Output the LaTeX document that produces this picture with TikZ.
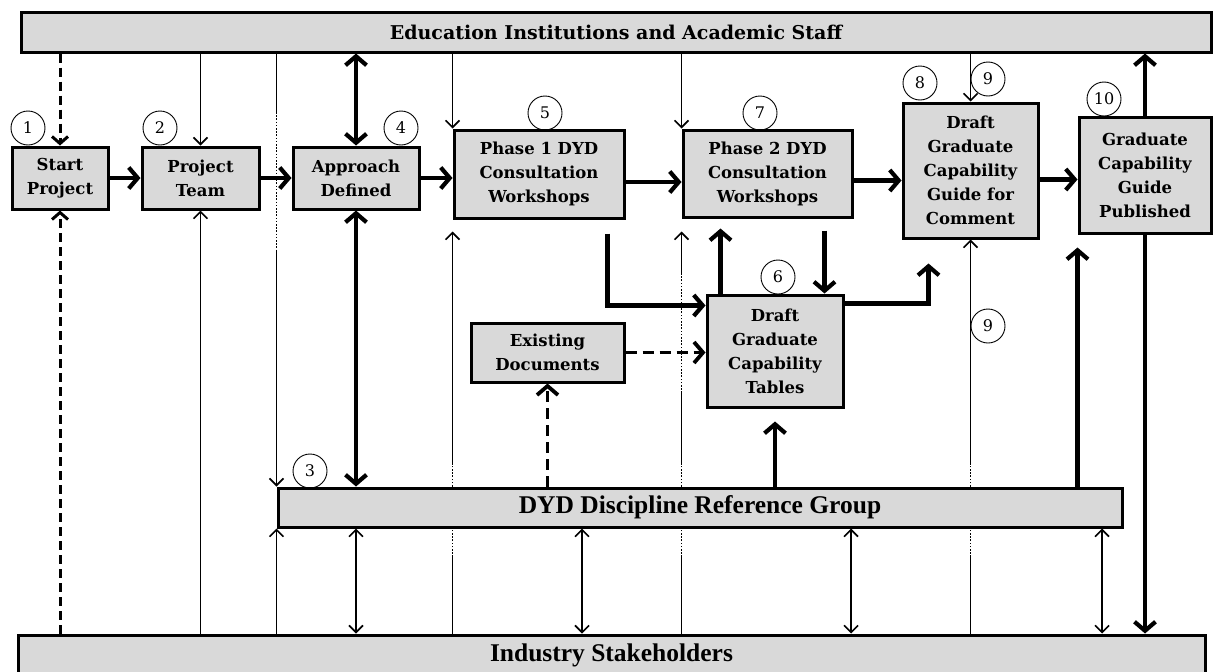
\documentclass[tikz,border=0pt]{standalone}
\usepackage{fontspec}
\setmainfont{DejaVu Serif}
\newfontfamily\barfont{Liberation Serif}
\usetikzlibrary{arrows.meta}
\definecolor{boxgray}{RGB}{217,217,217}
\newcommand{\boxfont}{\fontsize{16.5}{24}\selectfont\bfseries}
\newcommand{\topfont}{\fontsize{19}{22}\selectfont\bfseries}
\newcommand{\lowfont}{\barfont\fontsize{25.5}{28}\selectfont\bfseries}

\begin{document}
\begin{tikzpicture}[x=1pt,y=-1pt,
	proc/.style={draw,line width=3pt,fill=boxgray,align=center,font=\boxfont,inner sep=0pt},
	bar/.style={draw,line width=3pt,fill=boxgray,inner sep=0pt},
	num/.style={draw,circle,line width=0.9pt,minimum size=34pt,inner sep=0pt,font=\fontsize{16}{16}\selectfont},
	thinline/.style={line width=1.6pt},
	dotline/.style={line width=1.6pt,dash pattern=on 1.6pt off 1.6pt},
	thinarr/.style={line width=1.6pt,-{Straight Barb[length=7pt,width=14pt]}},
	thinboth/.style={line width=1.6pt,{Straight Barb[length=7pt,width=14pt]}-{Straight Barb[length=7pt,width=14pt]}},
	fatarr/.style={line width=4.2pt,-{Straight Barb[length=9pt,width=21pt]}},
	fatboth/.style={line width=4.2pt,{Straight Barb[length=9pt,width=21pt]}-{Straight Barb[length=9pt,width=21pt]}},
	dasharr/.style={line width=3pt,dash pattern=on 9pt off 5pt,-{Straight Barb[length=7pt,width=16pt]}},
	dashfat/.style={line width=3.8pt,dash pattern=on 11pt off 6pt,-{Straight Barb[length=9pt,width=21pt]}}
	]
	\useasboundingbox (0,0) rectangle (1213,672);
	% bars
	\node[bar,minimum width=1190pt,minimum height=40pt,font=\topfont] (edu) at (616,32) {Education Institutions and Academic Staff};
	\node[bar,minimum width=844pt,minimum height=39pt,font=\lowfont] (drg) at (700,507.5) {DYD Discipline Reference Group};
	\node[bar,minimum width=1187pt,minimum height=41pt,font=\lowfont] (industry) at (611.5,655.5) {Industry Stakeholders};
	% process boxes
	\node[proc,minimum width=96pt,minimum height=62pt] (start) at (60,178) {Start\\Project};
	\node[proc,minimum width=117pt,minimum height=62pt] (team) at (200.5,178) {Project\\Team};
	\node[proc,minimum width=126pt,minimum height=62pt] (approach) at (356,178) {Approach\\Defined};
	\node[proc,minimum width=170pt,minimum height=88pt] (phase1) at (539,174) {Phase 1 DYD\\Consultation\\Workshops};
	\node[proc,minimum width=169pt,minimum height=87pt] (phase2) at (767.5,173.5) {Phase 2 DYD\\Consultation\\Workshops};
	\node[proc,minimum width=135pt,minimum height=135pt] (guide) at (970.5,170.5) {Draft\\Graduate\\Capability\\Guide for\\Comment};
	\node[proc,minimum width=132pt,minimum height=116pt] (published) at (1145,175) {Graduate\\Capability\\Guide\\Published};
	\node[proc,minimum width=153pt,minimum height=59pt] (existing) at (547.5,352.5) {Existing\\Documents};
	\node[proc,minimum width=136pt,minimum height=112pt] (tables) at (775,351) {Draft\\Graduate\\Capability\\Tables};
	% step numbers
	\node[num] (n1) at (28,128) {1};
	\node[num] (n2) at (160,128) {2};
	\node[num] (n3) at (310,471) {3};
	\node[num] (n4) at (401,128) {4};
	\node[num] (n5) at (545,113) {5};
	\node[num] (n6) at (778,277) {6};
	\node[num] (n7) at (760,113) {7};
	\node[num] (n8) at (920,83) {8};
	\node[num] (n9) at (988,79) {9};
	\node[num] (n9b) at (988,326) {9};
	\node[num] (n10) at (1104,99) {10};
	% main flow
	\draw[fatarr] (start) -- (team);
	\draw[fatarr] (team) -- (approach);
	\draw[fatarr] (approach.east) -- (approach.east -| phase1.west);
	\draw[fatarr] ([yshift=-8pt]phase1.east) -- ([yshift=-8pt]phase1.east -| phase2.west);
	\draw[fatarr] ([yshift=-7pt]phase2.east) -- ([yshift=-7pt]phase2.east -| guide.west);
	\draw[fatarr] ([yshift=-9pt]guide.east) -- ([yshift=-9pt]guide.east -| published.west);
	% from the top bar
	\draw[dasharr] (edu.south -| start.north) -- (start.north);
	\draw[thinarr] (edu.south -| team.north) -- (team.north);
	\draw[thinline] (edu.south -| drg.north west) -- (drg.north west |- 0,112);
	\draw[dotline] (drg.north west |- 0,112) -- (drg.north west |- 0,250);
	\draw[thinarr] (drg.north west |- 0,250) -- (drg.north west);
	\draw[fatboth] (edu.south -| approach.north) -- (approach.north);
	\draw[thinarr] (edu.south -| phase1.north west) -- (phase1.north west);
	\draw[thinarr] (edu.south -| phase2.north west) -- (phase2.north west);
	\draw[thinarr] (edu.south -| guide.north) -- (guide.north);
	\draw[fatarr] (published.north) -- (published.north |- edu.south);
	% from the bottom bar
	\draw[dasharr] (industry.north -| start.south) -- (start.south);
	\draw[thinarr] (industry.north -| team.south) -- (team.south);
	\draw[thinarr] (industry.north -| drg.south west) -- (drg.south west);
	\draw[thinboth] (drg.south -| approach.south) -- (industry.north -| approach.south);
	\foreach \xx in {582,851,1102}
		\draw[thinboth] (drg.south -| \xx,0) -- (industry.north -| \xx,0);
	\foreach \col in {phase1.south west,phase2.south west,guide.south} {
		\draw[thinline] (industry.north -| \col) -- (\col |- 0,557);
		\draw[dotline] (\col |- 0,557) -- (\col |- drg.south);
		\draw[dotline] (\col |- drg.north) -- (\col |- 0,465);
	}
	\draw[thinarr] (phase1.south west |- 0,465) -- ([yshift=-12pt]phase1.south west);
	\draw[thinline] (phase2.south west |- 0,465) -- (phase2.south west |- 0,393);
	\draw[dotline] (phase2.south west |- 0,393) -- (phase2.south west |- 0,275);
	\draw[thinarr] (phase2.south west |- 0,275) -- ([yshift=-13pt]phase2.south west);
	\draw[thinarr] (guide.south |- 0,465) -- (guide.south);
	\draw[fatarr] (published.south) -- (published.south |- industry.north);
	% reference group and tables
	\draw[fatboth] (approach.south) -- (approach.south |- drg.north);
	\draw[dashfat] (drg.north -| existing.south) -- (existing.south);
	\draw[dashfat] (existing.east) -- (existing.east -| tables.west);
	\draw[fatarr] (drg.north -| tables.south) -- ([yshift=-13pt]tables.south);
	\draw[fatarr] ([xshift=-18pt,yshift=-14pt]phase1.south east) |- ([yshift=-12pt]tables.north west);
	\draw[fatarr] ([xshift=15pt]tables.north west) -- ([xshift=15pt,yshift=65pt]tables.north west);
	\draw[fatarr] ([xshift=-20pt,yshift=63pt]tables.north east) -- ([xshift=-20pt]tables.north east);
	\draw[fatarr] ([yshift=-10pt]tables.north east) -| ([xshift=27pt,yshift=-24pt]guide.south west);
	\draw[fatarr] (drg.north -| published.south west) -- ([yshift=-13pt]published.south west);
\end{tikzpicture}
\end{document}
